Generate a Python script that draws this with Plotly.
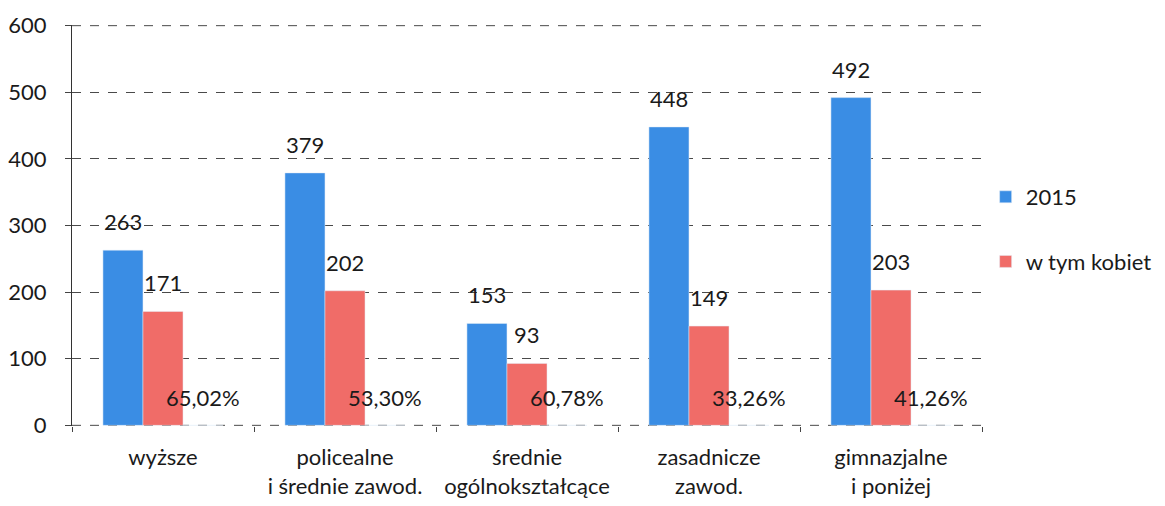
import plotly.graph_objects as go

categories = ["wyższe", "policealne<br>i średnie zawod.", "średnie<br>ogólnokształcące",
              "zasadnicze<br>zawod.", "gimnazjalne<br>i poniżej"]
total_2015 = [263, 379, 153, 448, 492]
women = [171, 202, 93, 149, 203]
women_share = ["65,02%", "53,30%", "60,78%", "33,26%", "41,26%"]
share_base = [0, 0, 0, 0, 0]
y_ticks = [0, 100, 200, 300, 400, 500, 600]

BLUE = "#3A8DE4"
RED = "#F06C68"
FONT = "Lato, 'Open Sans', sans-serif"
FS = 22
GRID = "#4a4a4a"

fig = go.Figure()
fig.add_trace(go.Bar(x=categories, y=total_2015, name="2015", marker_color=BLUE,
                     legendgroup="a"))
fig.add_trace(go.Bar(x=categories, y=women, name="w tym kobiet", marker_color=RED,
                     legendgroup="b"))
fig.add_trace(go.Bar(x=categories, y=share_base, name="udział", marker_color=RED,
                     showlegend=False, hoverinfo="skip"))

BAR_PX = 40
annotations = []
for c, v in zip(categories, total_2015):
    annotations.append(dict(x=c, y=v, text=str(v), xshift=-BAR_PX, yshift=13,
                            yanchor="bottom", showarrow=False))
for c, v in zip(categories, women):
    annotations.append(dict(x=c, y=v, text=str(v), xshift=0, yshift=13,
                            yanchor="bottom", showarrow=False))
for c, v, t in zip(categories, share_base, women_share):
    annotations.append(dict(x=c, y=v, text=t, xshift=BAR_PX, yshift=12,
                            yanchor="bottom", showarrow=False))
for a in annotations:
    a["font"] = dict(family=FONT, size=FS, color="#1a1a1a")

# gridlines at the ends of the value range (0 and 600)
shapes = [dict(type="line", xref="paper", x0=0, x1=1, yref="y", y0=v, y1=v,
               line=dict(color=GRID, width=1, dash="dash"), layer="below")
          for v in (y_ticks[0], y_ticks[-1])]

# page body has an 8px margin, so the figure is 8px smaller than the window
fig.update_layout(
    width=1157, height=498,
    margin=dict(l=64, r=183, t=17, b=80, autoexpand=False),
    paper_bgcolor="white", plot_bgcolor="white",
    barmode="group", bargap=0.34, bargroupgap=0,
    font=dict(family=FONT, size=FS, color="#1a1a1a"),
    annotations=annotations,
    shapes=shapes,
    legend=dict(x=1.004, y=0.49, xanchor="left", yanchor="middle",
                traceorder="grouped", tracegroupgap=33,
                font=dict(family=FONT, size=FS, color="#1a1a1a"),
                itemwidth=30),
    showlegend=True,
)
fig.update_xaxes(showgrid=False, showline=False, ticks="outside", tickson="boundaries",
                 ticklen=5, tickcolor="#444", tickfont=dict(size=FS),
                 automargin=False, ticklabelstandoff=16)
fig.update_yaxes(range=[-1, 601], tickvals=y_ticks,
                 showgrid=True, gridcolor=GRID,
                 griddash="dash", gridwidth=1, zeroline=False,
                 showline=True, linecolor="#333", linewidth=1,
                 ticks="outside", ticklen=6, tickcolor="#444",
                 tickfont=dict(size=FS), ticklabelstandoff=14, automargin=False)

fig.write_html("out.html")
